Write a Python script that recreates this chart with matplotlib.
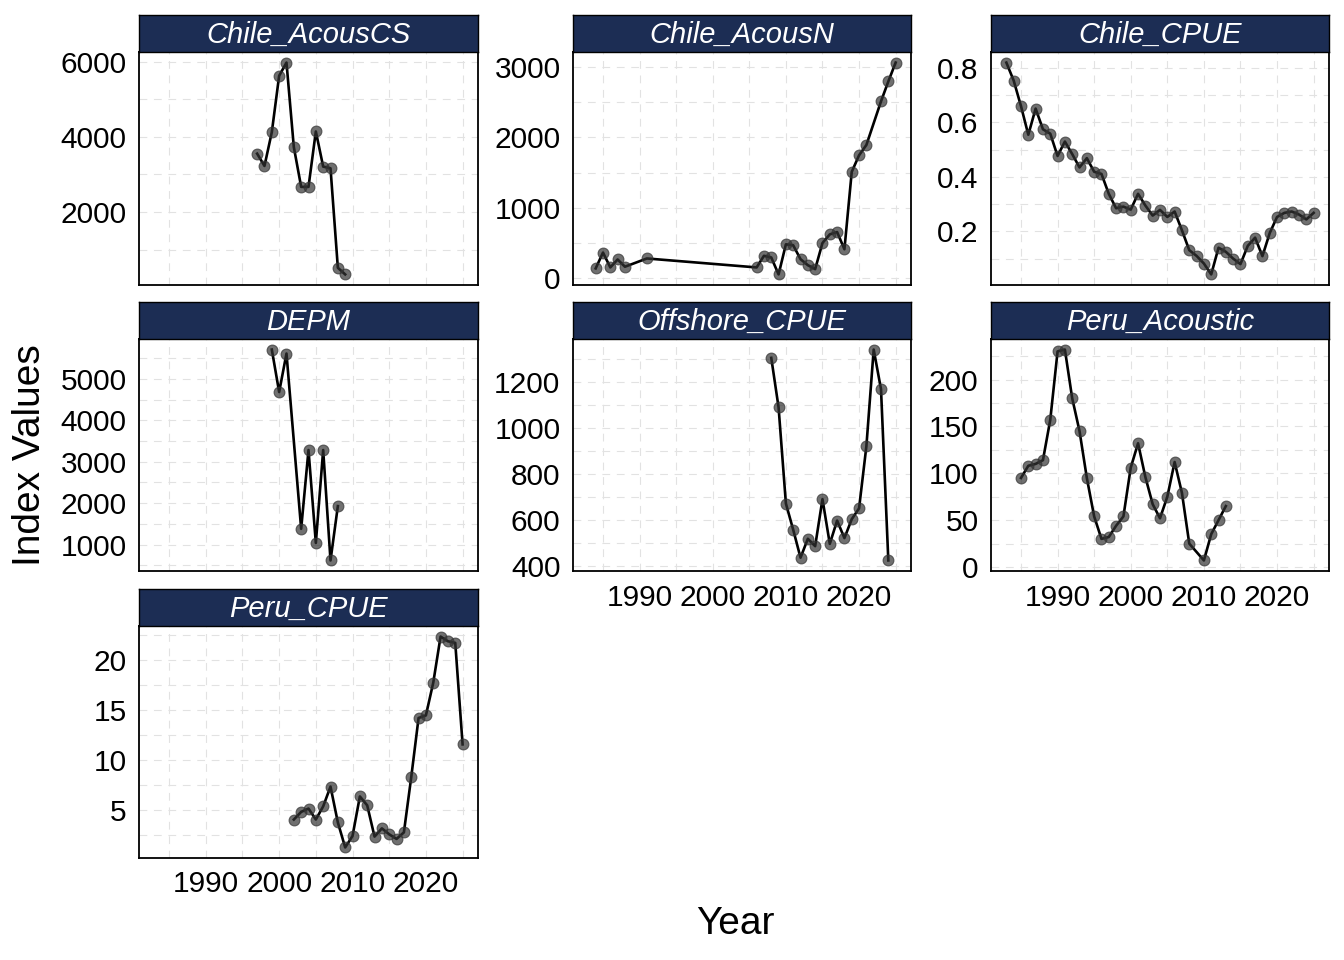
import matplotlib
matplotlib.use("Agg")
import matplotlib.pyplot as plt
from matplotlib.ticker import MultipleLocator, FuncFormatter

plt.rcParams['font.family'] = ['Liberation Sans', 'DejaVu Sans']

# index series
chile_acouscs_years = [1997, 1998, 1999, 2000, 2001, 2002, 2003, 2004, 2005, 2006, 2007, 2008, 2009]
chile_acouscs_vals = [3555, 3227, 4127, 5629, 5980, 3730, 2670, 2670, 4146, 3210, 3165, 516, 339]

chile_acousn_years = [1984, 1985, 1986, 1987, 1988, 1991, 2006, 2007, 2008, 2009, 2010, 2011, 2012,
                      2013, 2014, 2015, 2016, 2017, 2018, 2019, 2020, 2021, 2023, 2024, 2025]
chile_acousn_vals = [141, 366, 155, 268, 165, 282, 155, 320, 296, 56, 483, 469, 272,
                     187, 131, 502, 624, 657, 413, 1511, 1746, 1892, 2511, 2793, 3061]

chile_cpue_years = list(range(1983, 2026))
chile_cpue_vals = [0.820, 0.754, 0.660, 0.555, 0.651, 0.575, 0.559, 0.477, 0.530, 0.484, 0.435,
                   0.469, 0.419, 0.411, 0.338, 0.285, 0.291, 0.280, 0.338, 0.295, 0.258, 0.279,
                   0.253, 0.273, 0.204, 0.131, 0.110, 0.082, 0.042, 0.140, 0.125, 0.100, 0.080,
                   0.147, 0.177, 0.109, 0.194, 0.253, 0.268, 0.273, 0.262, 0.244, 0.268]

depm_years = [1999, 2000, 2001, 2003, 2004, 2005, 2006, 2007, 2008]
depm_vals = [5709, 4683, 5613, 1380, 3282, 1038, 3282, 616, 1928]

offshore_years = list(range(2008, 2025))
offshore_vals = [1303, 1088, 671, 557, 436, 518, 486, 690, 496, 597, 521, 603, 650, 919, 1339, 1167, 424]

peru_acoustic_years = list(range(1985, 2009)) + [2010, 2011, 2012, 2013]
peru_acoustic_vals = [95, 108, 110, 114, 157, 230, 232, 180, 145, 95, 54, 30, 32, 44, 54, 106,
                      132, 96, 67, 52, 75, 112, 79, 25, 7, 35, 50, 65]

peru_cpue_years = list(range(2002, 2026))
peru_cpue_vals = [4.08, 4.84, 5.17, 4.08, 5.39, 7.36, 3.79, 1.30, 2.44, 6.38, 5.49, 2.38, 3.20,
                  2.61, 2.15, 2.80, 8.29, 14.19, 14.45, 17.7, 22.3, 21.83, 21.67, 11.56]

panels = [
    ("Chile_AcousCS", chile_acouscs_years, chile_acouscs_vals, 2000),
    ("Chile_AcousN", chile_acousn_years, chile_acousn_vals, 1000),
    ("Chile_CPUE", chile_cpue_years, chile_cpue_vals, 0.2),
    ("DEPM", depm_years, depm_vals, 1000),
    ("Offshore_CPUE", offshore_years, offshore_vals, 200),
    ("Peru_Acoustic", peru_acoustic_years, peru_acoustic_vals, 50),
    ("Peru_CPUE", peru_cpue_years, peru_cpue_vals, 5),
]

W, H = 1344, 960
fig = plt.figure(figsize=(W / 100, H / 100), dpi=100)

cols = [(139, 478), (573, 911), (991, 1329)]
rows = [(15, 52, 285), (302, 339, 571), (589, 626, 858)]


def px_axes(x0, y0, x1, y1, **kw):
    return fig.add_axes([x0 / W, 1 - y1 / H, (x1 - x0) / W, (y1 - y0) / H], **kw)


first = None
axes = []
for i, (name, yrs, vals, step) in enumerate(panels):
    r, c = divmod(i, 3)
    x0, x1 = cols[c]
    st, pt, pb = rows[r]
    ax = px_axes(x0, pt, x1, pb, sharex=first)
    if first is None:
        first = ax
    axes.append(ax)

    ax.plot(yrs, vals, color="black", lw=1.9, zorder=3)
    ax.plot(yrs, vals, "o", color="#333333", alpha=0.7, ms=7.8, mew=0.8, zorder=4)

    ax.yaxis.set_major_locator(MultipleLocator(step))
    ax.yaxis.set_minor_locator(MultipleLocator(step / 2))
    ax.yaxis.set_major_formatter(FuncFormatter(lambda v, p: f"{v:g}"))
    ax.set_xticks([1985, 1995, 2005, 2015, 2025], minor=True)
    ax.set_xticks([1990, 2000, 2010, 2020])

    ax.grid(which="both", color="#e2e2e2", linestyle=(0, (7, 6)), lw=0.8, zorder=0)
    ax.tick_params(which="both", length=0, labelsize=21.5, pad=9, colors="black")
    for sp in ax.spines.values():
        sp.set_linewidth(1.3)
        sp.set_color("black")

    # strip
    sax = px_axes(x0, st, x1, pt)
    sax.set_facecolor("#1c2d54")
    sax.set_xticks([])
    sax.set_yticks([])
    for sp in sax.spines.values():
        sp.set_linewidth(1.0)
        sp.set_color("black")
    sax.text(0.5, 0.45, name, transform=sax.transAxes, ha="center", va="center",
             color="white", fontsize=21, style="italic")

# x tick labels only on the bottom panel of each column
for i, ax in enumerate(axes):
    if i not in (4, 5, 6):
        ax.tick_params(axis="x", labelbottom=False)

first.set_xlim(first.get_xlim())

fig.text(735 / W, 1 - 924 / H, "Year", ha="center", va="center", fontsize=28)
fig.text(30 / W, 1 - 455 / H, "Index Values", ha="center", va="center", fontsize=28, rotation=90)

fig.savefig("out.png", dpi=100, facecolor="white")
